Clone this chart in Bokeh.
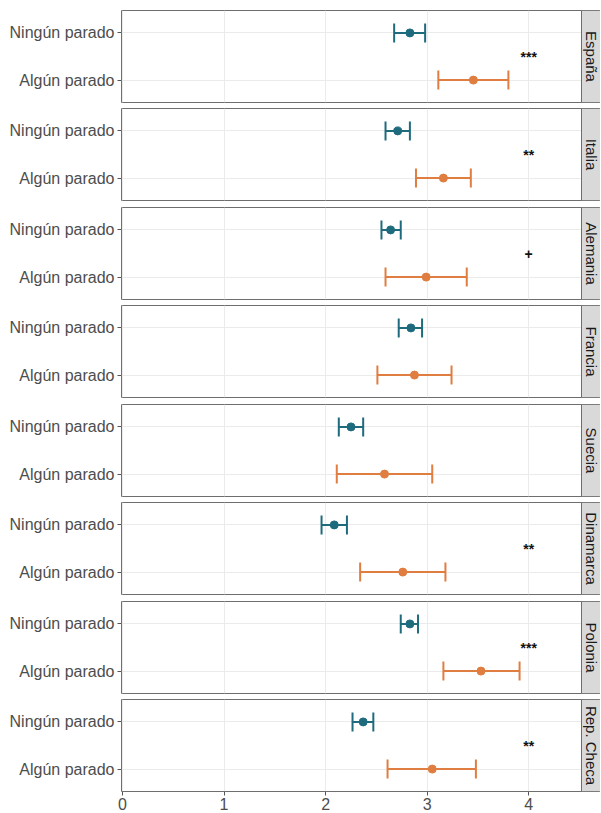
import math
from bokeh.plotting import figure
from bokeh.layouts import column
from bokeh.models import ColumnDataSource, Whisker, TeeHead, FixedTicker, Range1d
from bokeh.embed import file_html
from bokeh.resources import INLINE
from bokeh.core.properties import value

# ---------------- data ----------------
countries = ["España", "Italia", "Alemania", "Francia", "Suecia",
             "Dinamarca", "Polonia", "Rep. Checa"]
groups = ["Ningún parado", "Algún parado"]
ningun_mean = [2.83, 2.71, 2.64, 2.84, 2.25, 2.085, 2.83, 2.37]
ningun_low = [2.675, 2.59, 2.55, 2.72, 2.13, 1.96, 2.74, 2.265]
ningun_high = [2.98, 2.83, 2.74, 2.95, 2.37, 2.21, 2.91, 2.47]
algun_mean = [3.455, 3.16, 2.99, 2.875, 2.58, 2.76, 3.53, 3.05]
algun_low = [3.11, 2.89, 2.59, 2.51, 2.11, 2.34, 3.16, 2.61]
algun_high = [3.80, 3.43, 3.39, 3.24, 3.05, 3.18, 3.91, 3.48]
signif = ["***", "**", "+", "", "", "**", "***", "**"]
sig_x = 4
x_ticks = [0, 1, 2, 3, 4]

# ---------------- style ----------------
FONT = value("Liberation Sans")
TEAL = "#1F6B7E"
ORANGE = "#E07D40"
BORDER = "#6E6E6E"
GRID = "#EBEBEB"
XMIN, XMAX = -0.01, 4.52
STRIP = 0.187
YMIN, YMAX = 0.525, 2.475
ypos = {groups[0]: 2, groups[1]: 1}

tops = [10, 3, 3, 3, 3, 3, 3, 3]
bottoms = [3, 4, 3, 4, 3, 4, 3, 0]

figs = []
n = len(countries)
for i, c in enumerate(countries):
    last = (i == n - 1)
    p = figure(frame_width=479, frame_height=92,
               x_range=Range1d(XMIN, XMAX + STRIP), y_range=Range1d(YMIN, YMAX),
               output_backend="svg", toolbar_location=None, title=None,
               x_axis_location="below" if last else None,
               min_border_left=121, min_border_right=0,
               min_border_top=tops[i], min_border_bottom=bottoms[i] if not last else 0)
    p.background_fill_color = "white"
    p.border_fill_color = "white"
    p.outline_line_color = BORDER
    p.outline_line_width = 1

    # grids
    p.xgrid.ticker = FixedTicker(ticks=x_ticks)
    p.ygrid.ticker = FixedTicker(ticks=[1, 2])
    for g in p.grid:
        g.grid_line_color = GRID
        g.grid_line_width = 1
        g.minor_grid_line_color = None

    # y axis
    ya = p.yaxis[0]
    ya.ticker = FixedTicker(ticks=[1, 2])
    ya.major_label_overrides = {ypos[groups[0]]: groups[0], ypos[groups[1]]: groups[1]}
    ya.axis_line_color = None
    ya.major_tick_out = 4
    ya.major_tick_in = 0
    ya.major_tick_line_color = "#555555"
    ya.minor_tick_line_color = None
    ya.major_label_text_font = "Liberation Sans"
    ya.major_label_text_font_size = "16px"
    ya.major_label_text_color = "#4D4D4D"
    ya.major_label_standoff = 3

    if last:
        xa = p.xaxis[0]
        xa.ticker = FixedTicker(ticks=x_ticks)
        xa.axis_line_color = None
        xa.major_tick_out = 4
        xa.major_tick_in = 0
        xa.major_tick_line_color = "#555555"
        xa.minor_tick_line_color = None
        xa.major_label_text_font = "Liberation Sans"
        xa.major_label_text_font_size = "16px"
        xa.major_label_text_color = "#4D4D4D"
        xa.major_label_standoff = 2

    # strip
    p.quad(left=[XMAX], right=[XMAX + STRIP], bottom=[YMIN], top=[YMAX],
           fill_color="#D9D9D9", line_color=BORDER, line_width=1)
    p.text(x=[XMAX + STRIP / 2], y=[(YMIN + YMAX) / 2], text=[c], angle=-math.pi / 2,
           text_align="center", text_baseline="middle", text_font=FONT,
           text_font_size="15px", text_color="#1A1A1A")

    # error bars & points
    for grp, m, lo, hi, col in [(groups[0], ningun_mean, ningun_low, ningun_high, TEAL),
                                (groups[1], algun_mean, algun_low, algun_high, ORANGE)]:
        src = ColumnDataSource(dict(y=[ypos[grp]], x=[m[i]], lo=[lo[i]], hi=[hi[i]]))
        w = Whisker(source=src, base="y", lower="lo", upper="hi", dimension="width",
                    line_color=col, line_width=2,
                    upper_head=TeeHead(size=19, line_color=col, line_width=2),
                    lower_head=TeeHead(size=19, line_color=col, line_width=2))
        p.add_layout(w)
        p.scatter(x="x", y="y", source=src, size=8, fill_color=col, line_color=col)

    if signif[i]:
        p.text(x=[sig_x], y=[1.5], text=[signif[i]], text_align="center",
               text_baseline="middle", text_font=FONT, text_font_size="14px",
               text_font_style="bold", text_color="#111111")

    figs.append(p)

layout = column(*figs, spacing=0)
open("out.html", "w").write(file_html(layout, INLINE))
